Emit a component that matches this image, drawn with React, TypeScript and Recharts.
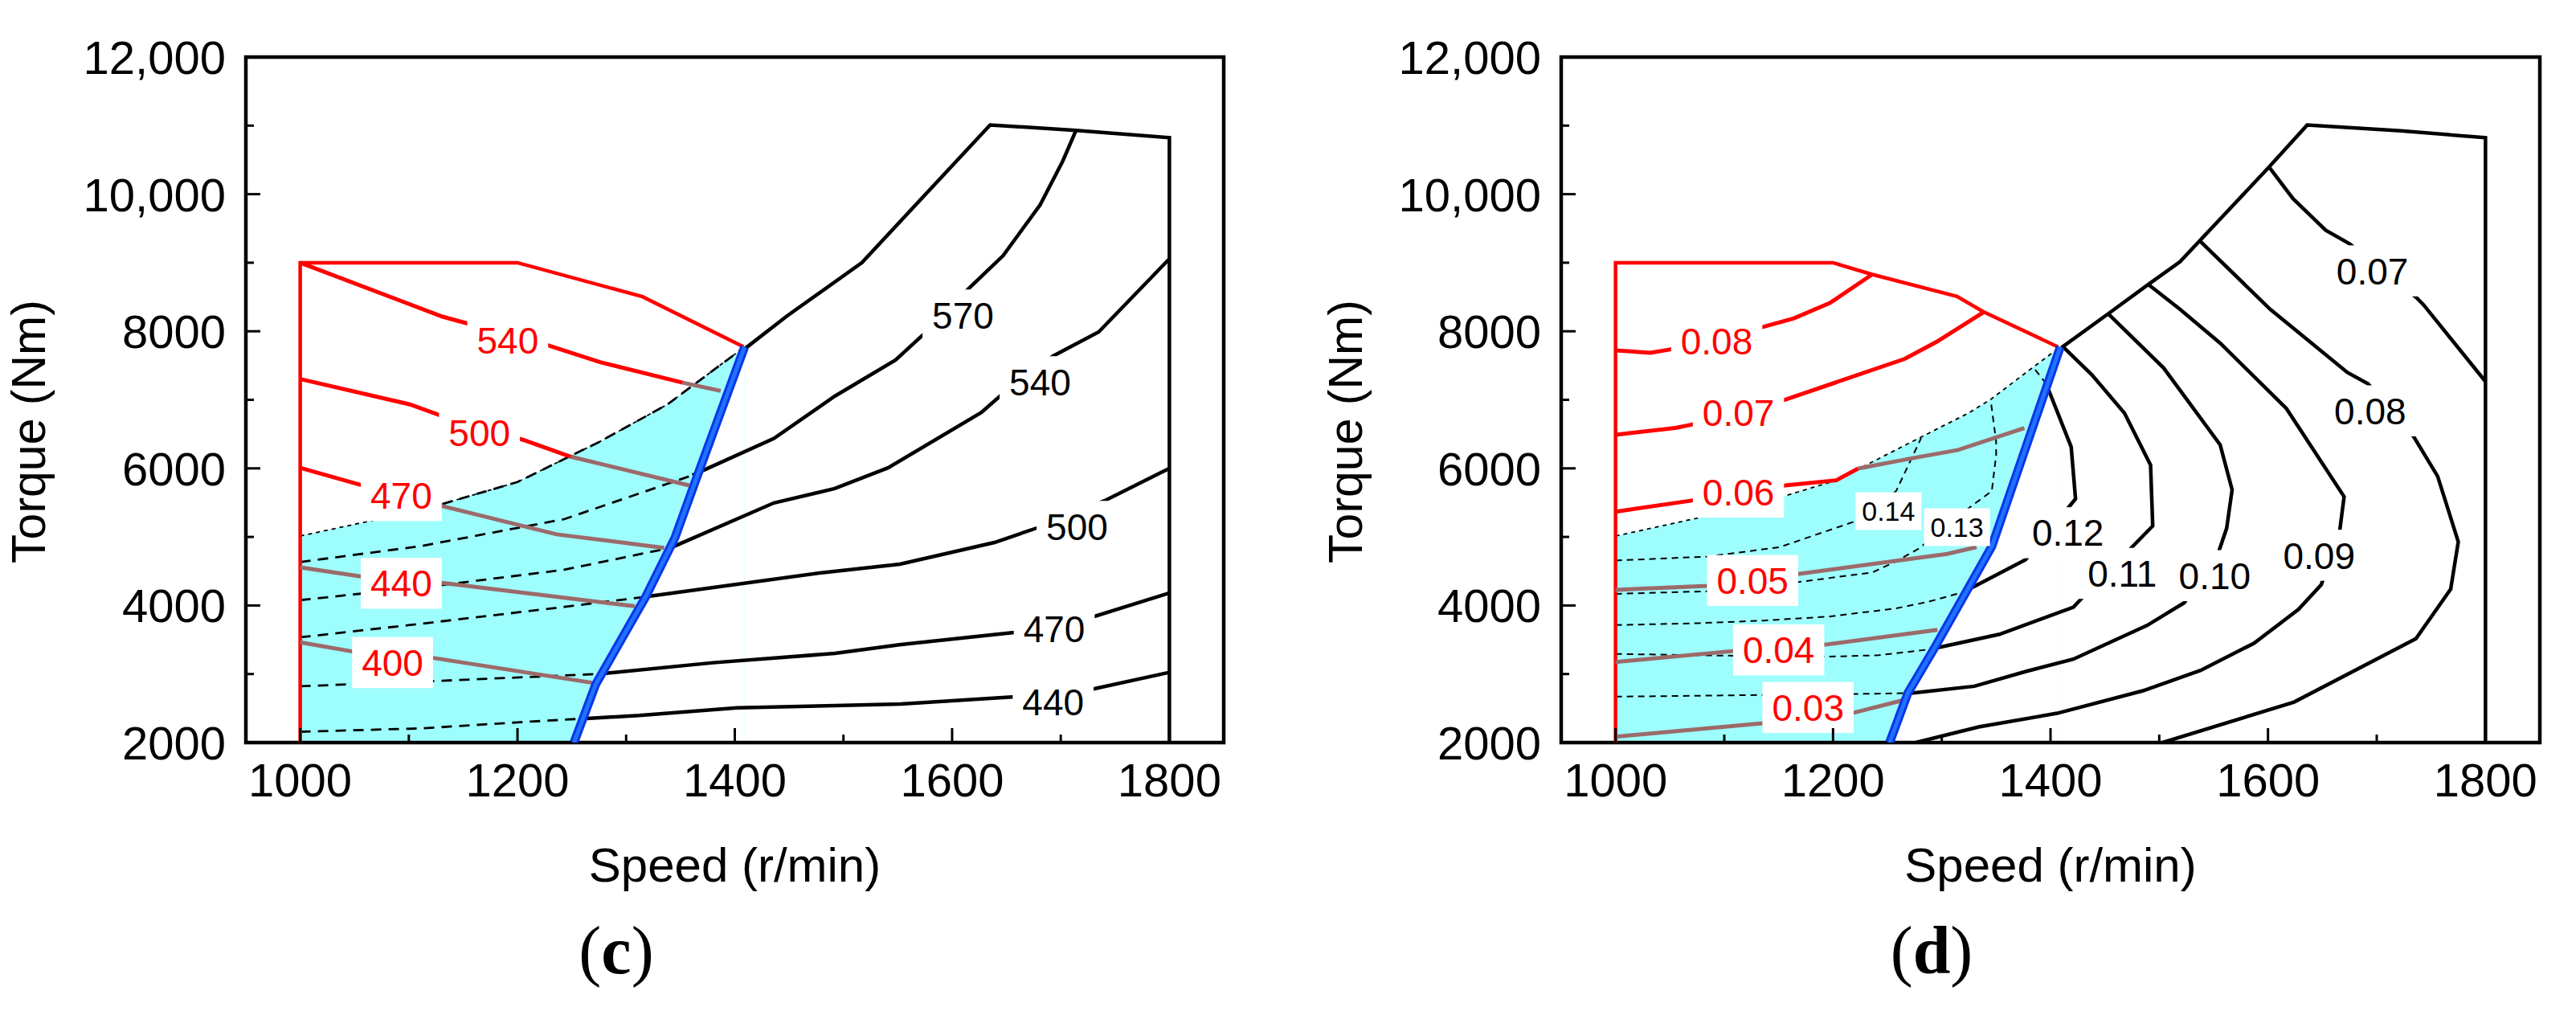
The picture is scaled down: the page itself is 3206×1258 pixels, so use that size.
import React from "react";
import { Area, ComposedChart, Label, Line, ReferenceArea, Scatter, XAxis, YAxis } from "recharts";

const FONT = '"Liberation Sans", Arial, sans-serif';

type Pt = [number, number];
type Tag = { x: number; y: number; text: string };

const xTicks = [1000, 1100, 1200, 1300, 1400, 1500, 1600, 1700, 1800];
const yTicks = [2000, 3000, 4000, 5000, 6000, 7000, 8000, 9000, 10000, 11000, 12000];

// ---- panel (c): efficiency-like contours, labels 400..570
const redBoundC: Pt[] = [[1000, 2000], [1000, 9000], [1200, 9000], [1315, 8505], [1408, 7775]];
const blackBoundC: Pt[] = [[1410, 7755], [1448, 8222], [1517, 9002], [1635, 11010], [1714, 10930], [1800, 10825], [1800, 2000]];
const blueC: Pt[] = [[1252, 2000], [1272, 2850], [1318, 4127], [1345, 4990], [1368, 5998], [1409, 7771]];
const cyanTopC: Pt[] = [[1000, 5013], [1065, 5235], [1131, 5481], [1200, 5801], [1276, 6392], [1338, 6933], [1409, 7771]];
const cyanHeavyC: Pt[] = [[1131, 5481], [1200, 5801], [1276, 6392], [1338, 6933], [1409, 7771]];

const dash440C: Pt[] = [[1000, 2158], [1111, 2207], [1200, 2295], [1261, 2350]];
const dash470C: Pt[] = [[1000, 2822], [1121, 2896], [1274, 3000]];
const dash500C: Pt[] = [[1000, 3536], [1111, 3733], [1243, 3979], [1318, 4127]];
const dash540C: Pt[] = [[1000, 4078], [1131, 4299], [1243, 4521], [1341, 4841]];
const dash570C: Pt[] = [[1000, 4634], [1111, 4866], [1243, 5259], [1361, 5900]];

const line440C: Pt[] = [[1261, 2350], [1312, 2395], [1402, 2508], [1492, 2540], [1553, 2564], [1658, 2668], [1731, 2785], [1800, 3024]];
const line470C: Pt[] = [[1274, 3000], [1380, 3165], [1492, 3301], [1553, 3429], [1657, 3606], [1731, 3841], [1800, 4181]];
const line500C: Pt[] = [[1318, 4127], [1478, 4474], [1552, 4603], [1639, 4919], [1678, 5130], [1742, 5540], [1800, 6000]];
const line540C: Pt[] = [[1341, 4841], [1436, 5496], [1492, 5705], [1541, 6008], [1627, 6817], [1644, 7052], [1693, 7639], [1735, 7991], [1800, 9057]];
const line570C: Pt[] = [[1361, 5900], [1436, 6436], [1492, 7053], [1548, 7580], [1573, 7944], [1616, 8635], [1647, 9104], [1681, 9843], [1702, 10488], [1714, 10929]];

const red540C: Pt[] = [[1000, 9000], [1131, 8213], [1154, 8114], [1228, 7795], [1276, 7549], [1352, 7250]];
const red500C: Pt[] = [[1000, 7303], [1101, 6933], [1131, 6761], [1205, 6417], [1249, 6170]];
const red470C: Pt[] = [[1000, 6008], [1055, 5762], [1093, 5610]];
const brown540C: Pt[] = [[1352, 7250], [1387, 7130]];
const brown500C: Pt[] = [[1249, 6170], [1358, 5752]];
const brown470C: Pt[] = [[1093, 5610], [1129, 5456], [1236, 5038], [1335, 4841]];
const brown440C: Pt[] = [[1000, 4555], [1057, 4422], [1129, 4334], [1308, 3989]];
const brown400C: Pt[] = [[1000, 3462], [1048, 3329], [1120, 3241], [1269, 2872]];

const redTagsC: Tag[] = [
  { x: 1191, y: 7867, text: "540" },
  { x: 1165, y: 6515, text: "500" },
  { x: 1093, y: 5604, text: "470" },
  { x: 1093, y: 4324, text: "440" },
  { x: 1085, y: 3167, text: "400" },
];
const blackTagsC: Tag[] = [
  { x: 1610, y: 8237, text: "570" },
  { x: 1681, y: 7264, text: "540" },
  { x: 1715, y: 5154, text: "500" },
  { x: 1694, y: 3665, text: "470" },
  { x: 1693, y: 2598, text: "440" },
];

// ---- panel (d): loss-like contours, labels 0.03..0.14
const redBoundD: Pt[] = [[1000, 2000], [1000, 9000], [1200, 9000], [1236, 8829], [1314, 8509], [1338, 8287], [1407, 7771]];
const blackBoundD: Pt[] = [[1410, 7760], [1453, 8255], [1490, 8683], [1519, 9013], [1601, 10396], [1636, 11008], [1722, 10923], [1800, 10824], [1800, 2000]];
const blueD: Pt[] = [[1252, 2000], [1269, 2728], [1293, 3371], [1346, 4860], [1409, 7771]];
const cyanTopD: Pt[] = [[1000, 5013], [1078, 5284], [1157, 5604], [1203, 5826], [1279, 6441], [1325, 6810], [1345, 7007], [1384, 7475], [1409, 7771]];

const dash010D: Pt[] = [[1000, 2670], [1219, 2709], [1272, 2722]];
const dash011D: Pt[] = [[1000, 3293], [1136, 3260], [1196, 3254], [1242, 3274], [1289, 3360]];
const dash012D: Pt[] = [[1000, 3714], [1076, 3741], [1136, 3780], [1196, 3838], [1257, 3955], [1287, 4052], [1314, 4169], [1321, 4205]];
const dash012TopD: Pt[] = [[1396, 7235], [1384, 7475]];
const dash013D: Pt[] = [[1000, 4169], [1085, 4208], [1169, 4344], [1236, 4481], [1257, 4636], [1279, 4831], [1326, 5435], [1346, 5668], [1350, 6194], [1350, 6392], [1345, 6990]];
const dash014D: Pt[] = [[1000, 4656], [1085, 4714], [1151, 4851], [1219, 5221], [1258, 5668], [1269, 6038], [1281, 6441]];

const line010D: Pt[] = [[1272, 2722], [1330, 2822], [1378, 3040], [1421, 3217], [1489, 3711], [1523, 4040], [1555, 4798], [1562, 5127], [1567, 5687], [1556, 6345], [1504, 7465], [1453, 8255]];
const line011D: Pt[] = [[1289, 3360], [1353, 3579], [1421, 3975], [1428, 4093], [1494, 5160], [1492, 6049], [1468, 6806], [1438, 7366], [1411, 7781]];
const line012D: Pt[] = [[1321, 4205], [1377, 4666], [1423, 5555], [1419, 6313], [1396, 7235]];
const line009D: Pt[] = [[1490, 8683], [1519, 8321], [1556, 7827], [1617, 6872], [1670, 5588], [1666, 5094], [1649, 4304], [1628, 3942], [1587, 3448], [1538, 3053], [1485, 2756], [1406, 2427], [1334, 2229], [1276, 2000]];
const line008D: Pt[] = [[1538, 9309], [1602, 8321], [1673, 7399], [1692, 7235], [1734, 6464], [1756, 5884], [1775, 4929], [1768, 4238], [1736, 3514], [1624, 2591], [1503, 2000]];
const line007D: Pt[] = [[1601, 10396], [1623, 9935], [1653, 9474], [1675, 9276], [1736, 8499], [1743, 8387], [1800, 7267]];

const red008D: Pt[] = [[1000, 7721], [1032, 7687], [1049, 7731], [1136, 8066], [1164, 8189], [1197, 8411], [1236, 8829]];
const red007D: Pt[] = [[1000, 6490], [1055, 6589], [1070, 6638], [1157, 7007], [1266, 7598], [1295, 7844], [1338, 8273]];
const red006D: Pt[] = [[1000, 5368], [1070, 5530], [1156, 5752], [1203, 5826], [1223, 5998]];
const brown006D: Pt[] = [[1223, 5998], [1272, 6146], [1315, 6269], [1376, 6589]];
const brown005D: Pt[] = [[1000, 4228], [1085, 4286], [1169, 4461], [1305, 4753], [1332, 4851]];
const brown004D: Pt[] = [[1000, 3176], [1106, 3332], [1193, 3429], [1296, 3644]];
const brown003D: Pt[] = [[1000, 2086], [1135, 2281], [1219, 2436], [1263, 2612]];

const redTagsD: Tag[] = [
  { x: 1093, y: 7859, text: "0.08" },
  { x: 1113, y: 6810, text: "0.07" },
  { x: 1113, y: 5653, text: "0.06" },
  { x: 1126, y: 4364, text: "0.05" },
  { x: 1150, y: 3352, text: "0.04" },
  { x: 1177, y: 2512, text: "0.03" },
];
const blackTagsD: Tag[] = [
  { x: 1416, y: 5061, text: "0.12" },
  { x: 1466, y: 4468, text: "0.11" },
  { x: 1551, y: 4435, text: "0.10" },
  { x: 1647, y: 4732, text: "0.09" },
  { x: 1694, y: 6839, text: "0.08" },
  { x: 1696, y: 8881, text: "0.07" },
];
const smallTagsD: Tag[] = [
  { x: 1251, y: 5376, text: "0.14" },
  { x: 1314, y: 5143, text: "0.13" },
];

const rows = (pts: Pt[]) => pts.map(([x, y]) => ({ x, y }));

function textWidth(s: string, size: number) {
  let w = 0;
  for (const ch of s) w += ch === "." ? 0.278 : 0.556;
  return w * size;
}

function tagShape(color: string, size: number, padX: number) {
  return (props: any) => {
    const { cx, cy, payload } = props;
    const w = textWidth(payload.text, size) + padX * 2;
    const h = size * 1.38;
    return (
      <g>
        <rect x={cx - w / 2} y={cy - h / 2} width={w} height={h} fill="#fff" />
        <text x={cx} y={cy} dy={size * 0.36} textAnchor="middle" fontSize={size} fontFamily={FONT} fill={color}>
          {payload.text}
        </text>
      </g>
    );
  };
}

function XTick({ x, y, payload }: any) {
  const v = payload.value as number;
  const major = v % 200 === 0;
  return (
    <g>
      <line x1={x} y1={y} x2={x} y2={y - (major ? 18 : 10)} stroke="#000" strokeWidth={3} />
      {major && (
        <text x={x} y={y + 67} textAnchor="middle" fontSize={58} fontFamily={FONT} fill="#000">
          {v}
        </text>
      )}
    </g>
  );
}

function fmtY(v: number) {
  return v >= 10000 ? `${Math.floor(v / 1000)},${String(v % 1000).padStart(3, "0")}` : String(v);
}

function YTick({ x, y, payload }: any) {
  const v = payload.value as number;
  const major = v % 2000 === 0;
  return (
    <g>
      <line x1={x} y1={y} x2={x + (major ? 18 : 10)} y2={y} stroke="#000" strokeWidth={3} />
      {major && (
        <text x={x - 25} y={y} dy={21} textAnchor="end" fontSize={58} fontFamily={FONT} fill="#000">
          {fmtY(v)}
        </text>
      )}
    </g>
  );
}

type PanelProps = {
  width: number;
  axisWidth: number;
  rightMargin: number;
  titleX: number;
  redBound: Pt[];
  blackBound: Pt[];
  blue: Pt[];
  cyanTop: Pt[];
  cyanHeavy?: Pt[];
  dashed: Pt[][];
  solid: Pt[][];
  red: Pt[][];
  brown: Pt[][];
  redTags: Tag[];
  blackTags: Tag[];
  smallTags: Tag[];
  dashWidth: number;
  dashArray: string;
};

function Panel(p: PanelProps) {
  const plain = { type: "linear" as const, dataKey: "y", dot: false, activeDot: false, isAnimationActive: false, legendType: "none" as const };
  return (
    <ComposedChart width={p.width} height={1258} margin={{ top: 71, right: p.rightMargin, bottom: 0, left: 0 }}>
      <Area data={rows(p.cyanTop)} dataKey="y" type="linear" stroke="none" fill="#9efdfd" fillOpacity={1} isAnimationActive={false} />
      <Area data={rows(p.blue)} dataKey="y" type="linear" stroke="none" fill="#ffffff" fillOpacity={1} isAnimationActive={false} />
      <Line {...plain} data={rows(p.cyanTop)} stroke="#000" strokeWidth={1.8} strokeDasharray="5 5" />
      {p.cyanHeavy && <Line {...plain} data={rows(p.cyanHeavy)} stroke="#000" strokeWidth={p.dashWidth} strokeDasharray={p.dashArray} />}
      {p.dashed.map((d, i) => (
        <Line key={`d${i}`} {...plain} data={rows(d)} stroke="#000" strokeWidth={p.dashWidth} strokeDasharray={p.dashArray} />
      ))}
      {p.solid.map((d, i) => (
        <Line key={`s${i}`} {...plain} data={rows(d)} stroke="#000" strokeWidth={4.5} />
      ))}
      <Line {...plain} data={rows(p.blackBound)} stroke="#000" strokeWidth={4.5} />
      <Line {...plain} data={rows(p.redBound)} stroke="#ff0000" strokeWidth={4.5} />
      {p.red.map((d, i) => (
        <Line key={`r${i}`} {...plain} data={rows(d)} stroke="#ff0000" strokeWidth={5} />
      ))}
      {p.brown.map((d, i) => (
        <Line key={`b${i}`} {...plain} data={rows(d)} stroke="#9c6a6a" strokeWidth={5} />
      ))}
      <Line {...plain} data={rows(p.blue)} stroke="#0a36e8" strokeWidth={11} />
      <Line {...plain} data={rows(p.blue)} stroke="#1f72ff" strokeWidth={5} />
      <Scatter data={p.redTags} shape={tagShape("#ff0000", 46, 12)} isAnimationActive={false} />
      <Scatter data={p.blackTags} shape={tagShape("#000", 46, 12)} isAnimationActive={false} />
      <Scatter data={p.smallTags} shape={tagShape("#000", 34, 8)} isAnimationActive={false} />
      <ReferenceArea x1={950} x2={1850} y1={2000} y2={12000} fill="none" stroke="#000" strokeWidth={4.5} />
      <XAxis
        dataKey="x"
        type="number"
        domain={[950, 1850]}
        allowDataOverflow
        ticks={xTicks}
        interval={0}
        height={334}
        axisLine={false}
        tickLine={false}
        tickSize={0}
        tickMargin={0}
        tick={<XTick />}
      >
        <Label
          content={(lp: any) => {
            const vb = lp.viewBox || { x: 0, width: 0 };
            return (
              <text x={vb.x + vb.width / 2} y={1097} textAnchor="middle" fontSize={60} fontFamily={FONT} fill="#000">
                Speed (r/min)
              </text>
            );
          }}
        />
      </XAxis>
      <YAxis
        dataKey="y"
        type="number"
        domain={[2000, 12000]}
        allowDataOverflow
        ticks={yTicks}
        interval={0}
        width={p.axisWidth}
        axisLine={false}
        tickLine={false}
        tickSize={0}
        tickMargin={0}
        tick={<YTick />}
      >
        <Label
          content={() => (
            <text transform={`translate(${p.titleX},537) rotate(-90)`} dy={18} textAnchor="middle" fontSize={59} fontFamily={FONT} fill="#000">
              Torque (Nm)
            </text>
          )}
        />
      </YAxis>
    </ComposedChart>
  );
}

const caption: React.CSSProperties = {
  position: "absolute",
  top: 1183,
  transform: "translate(-50%, -50%)",
  fontFamily: '"Liberation Serif", "Times New Roman", serif',
  fontSize: 84,
  lineHeight: 1,
  color: "#000",
  whiteSpace: "nowrap",
};

export default function App() {
  return (
    <div style={{ position: "absolute", left: 0, top: 0, width: 3206, height: 1258, background: "#fff", overflow: "hidden" }}>
      <div style={{ position: "absolute", left: 0, top: 0 }}>
        <Panel
          width={1600}
          axisWidth={306}
          rightMargin={77}
          titleX={38}
          redBound={redBoundC}
          blackBound={blackBoundC}
          blue={blueC}
          cyanTop={cyanTopC}
          cyanHeavy={cyanHeavyC}
          dashed={[dash440C, dash470C, dash500C, dash540C, dash570C]}
          solid={[line440C, line470C, line500C, line540C, line570C]}
          red={[red540C, red500C, red470C]}
          brown={[brown540C, brown500C, brown470C, brown440C, brown400C]}
          redTags={redTagsC}
          blackTags={blackTagsC}
          smallTags={[]}
          dashWidth={2.8}
          dashArray="13 9"
        />
      </div>
      <div style={{ position: "absolute", left: 1600, top: 0 }}>
        <Panel
          width={1606}
          axisWidth={343}
          rightMargin={45}
          titleX={77}
          redBound={redBoundD}
          blackBound={blackBoundD}
          blue={blueD}
          cyanTop={cyanTopD}
          dashed={[dash010D, dash011D, dash012D, dash012TopD, dash013D, dash014D]}
          solid={[line010D, line011D, line012D, line009D, line008D, line007D]}
          red={[red008D, red007D, red006D]}
          brown={[brown006D, brown005D, brown004D, brown003D]}
          redTags={redTagsD}
          blackTags={blackTagsD}
          smallTags={smallTagsD}
          dashWidth={2}
          dashArray="8 6"
        />
      </div>
      <div style={{ ...caption, left: 767 }}>
        (<b>c</b>)
      </div>
      <div style={{ ...caption, left: 2404 }}>
        (<b>d</b>)
      </div>
    </div>
  );
}
